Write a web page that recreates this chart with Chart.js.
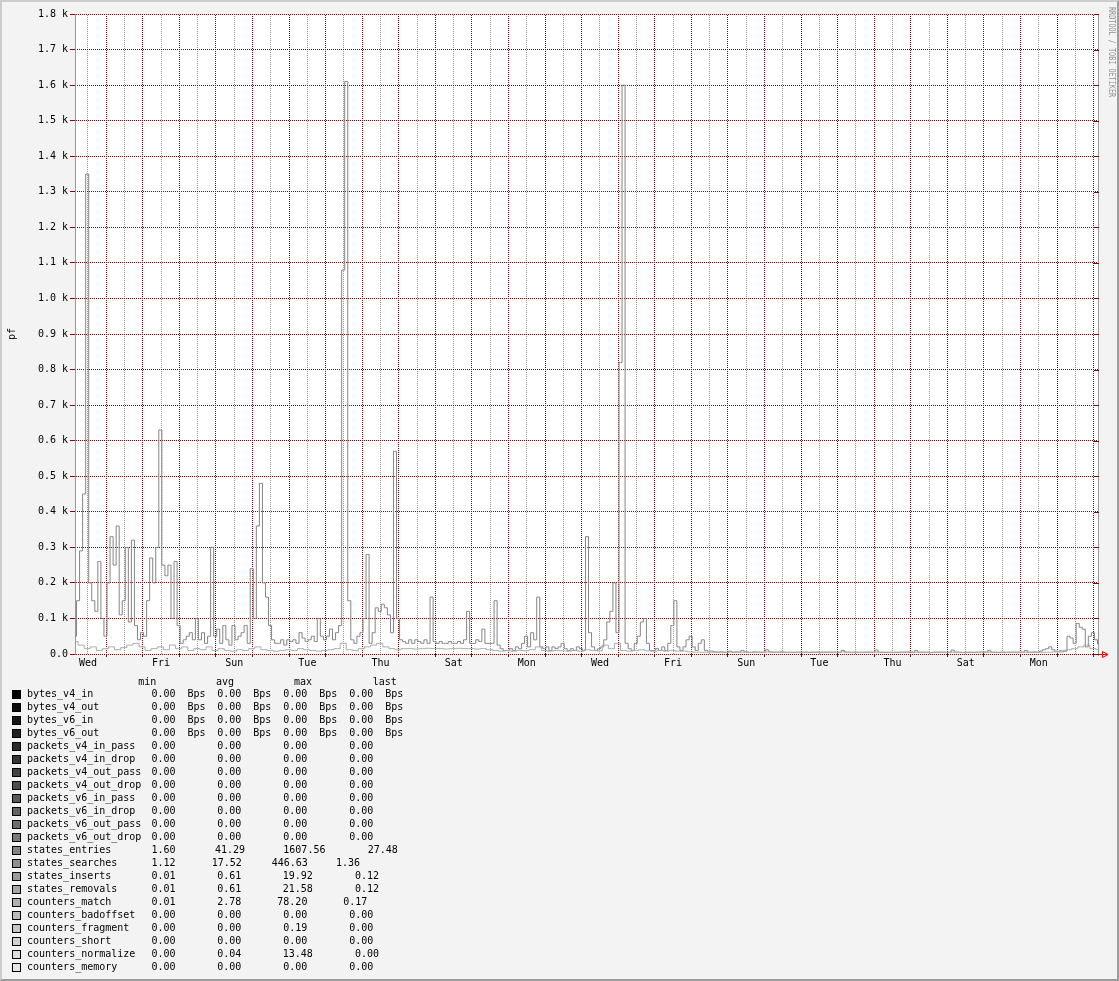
<!DOCTYPE html>
<html>
<head>
<meta charset="utf-8">
<script src="https://cdn.jsdelivr.net/npm/chart.js@4/dist/chart.umd.min.js"></script>
<style>
html,body{margin:0;padding:0;background:#f3f3f3;}
#frame{position:relative;width:1119px;height:981px;overflow:hidden;background:#f3f3f3;font-family:"DejaVu Sans Mono",monospace;font-size:10px;color:#000;}
#chart{position:absolute;left:0;top:0;}
#edge{position:absolute;left:0;top:0;width:1119px;height:981px;box-sizing:border-box;border-top:2px solid #cdcdcd;border-left:2px solid #cdcdcd;border-right:2px solid #9c9c9c;border-bottom:2px solid #9c9c9c;pointer-events:none;}
.t{position:absolute;white-space:pre;line-height:12px;height:12px;}
.sq{position:absolute;width:7px;height:7px;border:1px solid #000;}
#credit{position:absolute;left:1107px;top:7px;writing-mode:vertical-rl;font-size:8.5px;color:#8f8f8f;transform:scaleY(0.8);transform-origin:top left;white-space:pre;}
</style>
</head>
<body>
<div id="frame">
<canvas id="chart" width="1119" height="680"></canvas>
<div id="legend"></div>
<div id="credit">RRDTOOL / TOBI OETIKER</div>
<div id="edge"></div>
</div>
<script>
// ---------- DATA ----------
const yTitle = 'pf';
const xTickLabels = ['Wed','Fri','Sun','Tue','Thu','Sat','Mon','Wed','Fri','Sun','Tue','Thu','Sat','Mon'];
const yTickLabels = ['0.0','0.1 k','0.2 k','0.3 k','0.4 k','0.5 k','0.6 k','0.7 k','0.8 k','0.9 k','1.0 k','1.1 k','1.2 k','1.3 k','1.4 k','1.5 k','1.6 k','1.7 k','1.8 k'];
const totalHours = 672;        // 4 weeks
const firstNoonHour = 8.5;     // first noon after graph start
const stepEntries = 2;         // hours per sample
const stepSearches = 4;        // hours per sample

const statesEntries = [
50,150,290,450,1350,200,150,120,260,100,
50,200,330,250,360,110,150,300,90,320,
80,40,60,50,150,270,200,300,630,250,
220,250,100,260,80,30,40,50,60,40,
100,40,60,30,50,300,50,70,30,80,
40,25,80,40,50,60,80,30,240,100,
360,480,200,160,80,40,30,30,40,25,
40,35,40,30,60,45,35,40,50,35,
100,50,40,50,70,40,60,80,1080,1610,
150,40,30,50,60,100,280,30,60,130,
120,140,130,110,60,570,100,40,35,30,
40,30,40,35,30,40,30,160,35,30,
35,30,30,35,30,30,35,30,40,120,
30,30,40,35,70,30,30,30,150,25,
15,10,10,15,10,20,15,30,50,20,
60,40,160,20,15,20,10,20,15,20,
30,15,10,15,10,20,15,10,330,60,
20,10,15,20,40,90,120,200,60,820,
1600,30,15,10,30,50,90,100,30,10,
10,15,10,20,10,30,80,150,20,10,
20,40,50,20,10,30,40,10,8,8,
6,5,6,5,5,8,5,6,5,10,
6,5,5,6,5,5,5,12,6,5,
5,5,6,5,5,5,4,5,5,5,
5,4,5,5,6,5,5,5,5,5,
5,5,10,5,5,4,5,5,5,5,
5,5,5,11,5,5,4,5,5,5,
4,5,5,5,5,4,10,5,5,5,
5,4,5,5,5,5,5,5,11,5,
5,4,5,5,5,4,5,5,5,5,
10,5,5,4,5,5,5,5,5,5,
5,5,10,5,5,6,5,8,12,15,
20,12,6,6,6,8,50,45,30,86,
75,70,20,50,60,40,28
];

const statesSearches = [
35,25,15,20,10,15,20,12,18,25,
30,20,10,15,20,12,25,15,20,10,
15,12,20,10,15,10,8,12,10,15,
20,12,10,8,10,12,10,15,12,10,
8,10,12,15,30,12,10,15,20,25,
30,20,15,12,15,15,14,15,16,15,
15,14,15,16,15,15,14,15,12,10,
8,10,8,10,9,12,20,10,8,10,
9,8,10,8,12,10,9,25,15,30,
10,8,10,12,9,8,10,8,10,8,
8,6,5,5,5,5,5,5,5,5,
5,4,5,5,6,5,5,4,5,5,
5,5,4,5,5,5,6,5,5,4,
5,5,5,5,4,5,5,6,5,5,
4,5,5,5,5,5,4,5,5,6,
5,5,5,4,5,5,5,5,5,5,
5,8,10,12,15,20,25,15,12
];

const legendNames = ['bytes_v4_in','bytes_v4_out','bytes_v6_in','bytes_v6_out','packets_v4_in_pass','packets_v4_in_drop','packets_v4_out_pass','packets_v4_out_drop','packets_v6_in_pass','packets_v6_in_drop','packets_v6_out_pass','packets_v6_out_drop','states_entries','states_searches','states_inserts','states_removals','counters_match','counters_badoffset','counters_fragment','counters_short','counters_normalize','counters_memory'];
const legendUnits = ['Bps','Bps','Bps','Bps','','','','','','','','','','','','','','','','','',''];
const legendMin  = ['0.00','0.00','0.00','0.00','0.00','0.00','0.00','0.00','0.00','0.00','0.00','0.00','1.60','1.12','0.01','0.01','0.01','0.00','0.00','0.00','0.00','0.00'];
const legendAvg  = ['0.00','0.00','0.00','0.00','0.00','0.00','0.00','0.00','0.00','0.00','0.00','0.00','41.29','17.52','0.61','0.61','2.78','0.00','0.00','0.00','0.04','0.00'];
const legendMax  = ['0.00','0.00','0.00','0.00','0.00','0.00','0.00','0.00','0.00','0.00','0.00','0.00','1607.56','446.63','19.92','21.58','78.20','0.00','0.19','0.00','13.48','0.00'];
const legendLast = ['0.00','0.00','0.00','0.00','0.00','0.00','0.00','0.00','0.00','0.00','0.00','0.00','27.48','1.36','0.12','0.12','0.17','0.00','0.00','0.00','0.00','0.00'];
const legendHeader = ['min','avg','max','last'];

// ---------- STYLE ----------
const legendColors = ['#000000','#0b0b0b','#161616','#212121','#2c2c2c','#373737','#424242','#4d4d4d','#585858','#636363','#6e6e6e','#797979','#848484','#8f8f8f','#9a9a9a','#a5a5a5','#b0b0b0','#bbbbbb','#c6c6c6','#d1d1d1','#dcdcdc','#e7e7e7'];
const RED = 'rgb(128,8,8)';
const GRAY = 'rgb(150,150,150)';

// column x positions (left edges) per row: [min, avg, max, last]
const colDefault = [151.5, 217.3, 283.3, 349.3];
const colSpecial = {
  12: [151.5, 215, 283.3, 367.7],
  13: [151.5, 211.7, 271.7, 336],
  14: [151.5, 217.3, 282.7, 355],
  15: [151.5, 217.3, 282.7, 355],
  16: [151.5, 217.3, 277.3, 343.3],
  20: [151.5, 217.3, 282.7, 355]
};
const unitDx = 36;

// ---------- LEGEND (HTML text) ----------
(function(){
  const lg = document.getElementById('legend');
  const add = (cls, txt, left, top) => {
    const d = document.createElement('div');
    d.className = cls; d.textContent = txt;
    d.style.left = left + 'px'; d.style.top = top + 'px';
    lg.appendChild(d); return d;
  };
  const headX = [138.3, 216, 294, 372.7];
  legendHeader.forEach((h,i)=>add('t', h, headX[i], 675.5));
  legendNames.forEach((name,i)=>{
    const cy = 694.3 + 13*i;
    const sq = add('sq', '', 12, Math.round(cy - 4.5));
    sq.style.background = legendColors[i];
    add('t', name, 27, cy - 6);
    const cols = colSpecial[i] || colDefault;
    [legendMin[i], legendAvg[i], legendMax[i], legendLast[i]].forEach((v,k)=>{
      add('t', v, cols[k], cy - 6);
      if (legendUnits[i]) add('t', legendUnits[i], cols[k] + unitDx, cy - 6);
    });
  });
})();

// ---------- CHART ----------
Chart.defaults.font.family = '"DejaVu Sans Mono", monospace';
Chart.defaults.font.size = 10;
Chart.defaults.color = '#000';

const canvasEl = document.getElementById('chart');
function dotPattern(color){
  const c = document.createElement('canvas'); c.width = 2; c.height = 2;
  const g = c.getContext('2d'); g.fillStyle = color;
  g.fillRect(0,0,1,1); g.fillRect(1,1,1,1);
  return canvasEl.getContext('2d').createPattern(c, 'repeat');
}
const RED_DOT = dotPattern(RED);
const GRAY_DOT = dotPattern(GRAY);

const rrdPlugin = {
  id: 'rrd',
  beforeDraw(chart){
    const {ctx, chartArea:a} = chart;
    ctx.save(); ctx.fillStyle = '#ffffff';
    ctx.fillRect(a.left, a.top, a.right - a.left, a.bottom - a.top);
    ctx.restore();
  },
  afterDraw(chart){
    const {ctx, chartArea:a, scales} = chart;
    ctx.save();
    ctx.lineWidth = 1;
    // right frame line
    const rx = Math.round(a.right) - 0.5;
    ctx.strokeStyle = '#999999';
    ctx.beginPath(); ctx.moveTo(rx, a.top); ctx.lineTo(rx, a.bottom + 2); ctx.stroke();
    // right-side ticks
    ctx.strokeStyle = RED;
    scales.y.ticks.forEach(t=>{
      const y = Math.round(scales.y.getPixelForValue(t.value)) + 0.5;
      ctx.beginPath(); ctx.moveTo(a.right - 5, y); ctx.lineTo(a.right, y); ctx.stroke();
    });
    // x-axis arrow
    const y0 = Math.round(a.bottom) + 0.5;
    ctx.strokeStyle = '#ff0000';
    ctx.beginPath(); ctx.moveTo(a.right, y0); ctx.lineTo(a.right + 8, y0); ctx.stroke();
    ctx.beginPath();
    ctx.moveTo(a.right + 3.5, y0 - 3); ctx.lineTo(a.right + 9, y0); ctx.lineTo(a.right + 3.5, y0 + 3); ctx.closePath();
    ctx.stroke();
    ctx.restore();
  }
};

const isMidnight = v => Math.abs(((v - firstNoonHour) % 24 + 24) % 24 - 12) < 0.01;

new Chart(canvasEl, {
  type: 'line',
  data: {
    datasets: [
      {
        label: 'states_searches',
        data: statesSearches.map((v,i)=>({x: i*stepSearches, y: v})),
        borderColor: '#ababab', borderWidth: 1, pointRadius: 0, stepped: 'middle', fill: false
      },
      {
        label: 'states_entries',
        data: statesEntries.map((v,i)=>({x: i*stepEntries, y: v})),
        borderColor: '#858585', borderWidth: 1, pointRadius: 0, stepped: 'middle', fill: false
      }
    ]
  },
  options: {
    responsive: false,
    animation: false,
    layout: { padding: { left: 0, right: 20, top: 14, bottom: 0 } },
    plugins: { legend: { display: false }, tooltip: { enabled: false } },
    scales: {
      x: {
        type: 'linear', min: 0, max: totalHours,
        afterBuildTicks(scale){
          const t = [];
          for (let v = firstNoonHour; v <= totalHours; v += 12) t.push({value: v});
          scale.ticks = t;
        },
        afterFit(scale){ scale.height = 26; },
        ticks: {
          autoSkip: false, maxRotation: 0, minRotation: 0, padding: 0,
          callback(value){
            const d = (value - firstNoonHour) / 24;
            if (Math.abs(d - Math.round(d)) < 0.01 && Math.round(d) % 2 === 0) {
              return xTickLabels[Math.round(d) / 2] || '';
            }
            return '';
          }
        },
        grid: {
          color: ctx => isMidnight(ctx.tick.value) ? RED_DOT : GRAY_DOT,
          tickColor: ctx => isMidnight(ctx.tick.value) ? RED : 'rgba(0,0,0,0)',
          tickLength: 3, lineWidth: 1
        },
        border: { display: false }
      },
      y: {
        type: 'linear', min: 0, max: 1800,
        afterFit(scale){ scale.width = 75; },
        ticks: {
          stepSize: 100, padding: 2,
          callback(value){ return yTickLabels[Math.round(value/100)]; }
        },
        grid: { color: RED_DOT, tickColor: RED, tickLength: 5, lineWidth: 1 },
        border: { display: true, color: '#999999', width: 1 },
        title: { display: true, text: yTitle, padding: { top: 6, bottom: 0 }, font: { size: 10 } }
      }
    }
  },
  plugins: [rrdPlugin]
});
</script>
</body>
</html>
